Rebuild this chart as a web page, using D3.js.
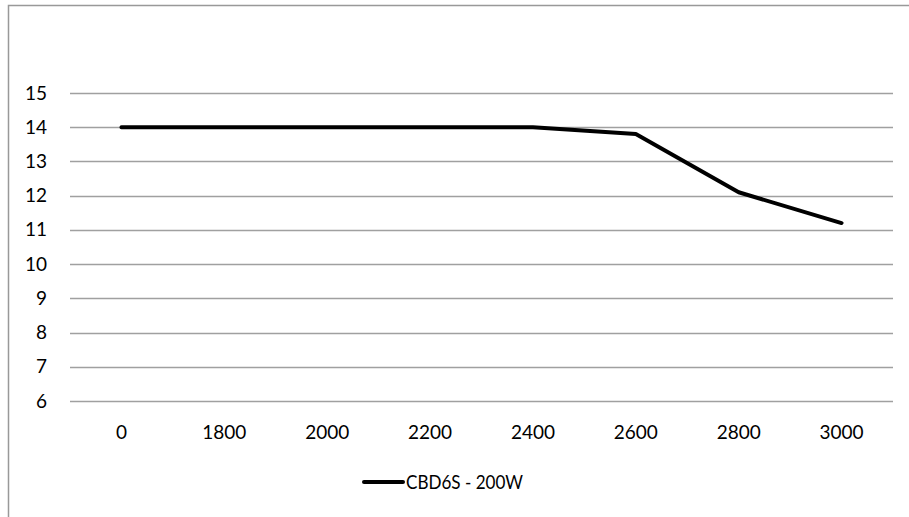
<!DOCTYPE html>
<html lang="en">
<head>
<meta charset="utf-8">
<title>CBD6S - 200W</title>
<script src="https://cdn.jsdelivr.net/npm/d3@7"></script>
<style>
  body { margin: 0; background: #fff; }
  text { font-family: Lato, "Open Sans", sans-serif; }
</style>
</head>
<body>
<script>
// data
var categories = ["0", "1800", "2000", "2200", "2400", "2600", "2800", "3000"];
var values = [14, 14, 14, 14, 14, 13.8, 12.1, 11.2];
var yTicks = [6, 7, 8, 9, 10, 11, 12, 13, 14, 15];
var seriesName = "CBD6S - 200W";

var w = 909, h = 517;
var margin = { left: 70, right: 16, top: 93, bottom: 116 };

var svg = d3.select("body").append("svg")
  .attr("width", w)
  .attr("height", h);

// chart-area border (top and left visible, rest cropped)
svg.append("path")
  .attr("d", "M8.5," + h + "V5.5H" + w)
  .attr("fill", "none")
  .attr("stroke", "#999")
  .attr("stroke-width", 1.5);

var xScale = d3.scaleBand()
  .domain(categories)
  .range([margin.left, w - margin.right]);

var yScale = d3.scaleLinear()
  .domain([6, 15])
  .range([h - margin.bottom, margin.top]);

// gridlines
svg.append("g")
  .selectAll("line")
  .data(yTicks)
  .enter()
  .append("line")
  .attr("x1", margin.left)
  .attr("x2", w - margin.right)
  .attr("y1", function(d) { return Math.round(yScale(d)) + 0.5; })
  .attr("y2", function(d) { return Math.round(yScale(d)) + 0.5; })
  .attr("stroke", "#a0a0a0")
  .attr("stroke-width", 1.3);

// y axis labels
var yAxis = d3.axisLeft(yScale)
  .tickValues(yTicks)
  .tickSize(0)
  .tickPadding(0);

var gy = svg.append("g")
  .attr("transform", "translate(47,0)")
  .call(yAxis);
gy.select(".domain").remove();
gy.selectAll("text")
  .attr("font-size", "19px")
  .attr("fill", "#000")
  .attr("font-family", "Lato, sans-serif");

// x axis labels
var xAxis = d3.axisBottom(xScale)
  .tickSize(0)
  .tickPadding(0);

var gx = svg.append("g")
  .attr("transform", "translate(0," + (h - margin.bottom + 24) + ")")
  .call(xAxis);
gx.select(".domain").remove();
gx.selectAll("text")
  .attr("font-size", "19px")
  .attr("fill", "#000")
  .attr("font-family", "Lato, sans-serif");

// series line
var line = d3.line()
  .x(function(d, i) { return xScale(categories[i]) + xScale.bandwidth() / 2; })
  .y(function(d) { return yScale(d); });

svg.append("path")
  .datum(values)
  .attr("d", line)
  .attr("fill", "none")
  .attr("stroke", "#000")
  .attr("stroke-width", 4)
  .attr("stroke-linecap", "round")
  .attr("stroke-linejoin", "round");

// legend
var legend = svg.append("g").attr("transform", "translate(362,482)");
legend.append("line")
  .attr("x1", 2).attr("x2", 41)
  .attr("stroke", "#000")
  .attr("stroke-width", 4)
  .attr("stroke-linecap", "round");
legend.append("text")
  .attr("x", 44)
  .attr("dy", "0.36em")
  .attr("font-size", "19px")
  .attr("textLength", 117)
  .attr("lengthAdjust", "spacingAndGlyphs")
  .text(seriesName);
</script>
</body>
</html>
